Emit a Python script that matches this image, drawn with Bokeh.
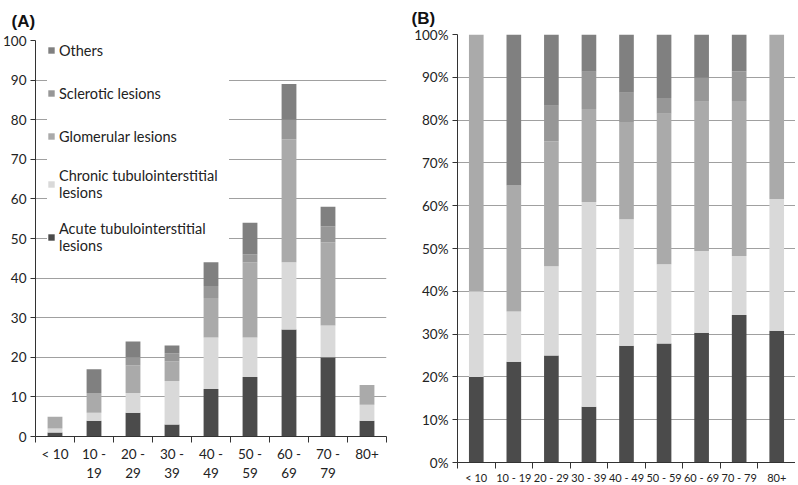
from bokeh.plotting import figure
from bokeh.layouts import row, column
from bokeh.models import (FixedTicker, Legend, LegendItem, NumeralTickFormatter,
                          ColumnDataSource, Range1d)
from bokeh.embed import file_html
from bokeh.resources import INLINE

# ---------------- data ----------------
age_groups = ["< 10", "10 - 19", "20 - 29", "30 - 39", "40 - 49",
              "50 - 59", "60 - 69", "70 - 79", "80+"]
age_labels_a = ["< 10", "10 -\n19", "20 -\n29", "30 -\n39", "40 -\n49",
                "50 -\n59", "60 -\n69", "70 -\n79", "80+"]
acute = [1, 4, 6, 3, 12, 15, 27, 20, 4]
chronic = [1, 2, 5, 11, 13, 10, 17, 8, 4]
glomerular = [3, 5, 7, 5, 10, 19, 31, 21, 5]
sclerotic = [0, 0, 2, 2, 3, 2, 5, 4, 0]
others = [0, 6, 4, 2, 6, 8, 9, 5, 0]

series_names = ["Acute tubulointerstitial\nlesions",
                "Chronic tubulointerstitial\nlesions",
                "Glomerular lesions", "Sclerotic lesions", "Others"]
series_keys = ["acute", "chronic", "glomerular", "sclerotic", "others"]
series_colors = ["#4b4b4b", "#d9d9d9", "#aaaaaa", "#979797", "#808080"]

y_ticks_a = [0, 10, 20, 30, 40, 50, 60, 70, 80, 90, 100]
y_ticks_b = [0, 0.1, 0.2, 0.3, 0.4, 0.5, 0.6, 0.7, 0.8, 0.9, 1.0]

FONT = "Lato"
TXT = "#222222"

xs = [i + 1 for i in range(len(age_groups))]
totals = [a + b + c + d + e for a, b, c, d, e in
          zip(acute, chronic, glomerular, sclerotic, others)]
values = dict(acute=acute, chronic=chronic, glomerular=glomerular,
              sclerotic=sclerotic, others=others)

src_a = ColumnDataSource(dict(x=xs, **values))
src_b = ColumnDataSource(dict(x=xs, **{k: [v / t for v, t in zip(values[k], totals)]
                                       for k in series_keys}))


def style(p, labels, y_ticks, xfs, lh, standoff):
    p.xgrid.visible = False
    p.ygrid.ticker = FixedTicker(ticks=y_ticks[1:])
    p.ygrid.grid_line_color = "#a0a0a0"
    p.ygrid.grid_line_width = 1
    p.outline_line_color = None

    xa = p.xaxis[0]
    xa.ticker = FixedTicker(ticks=xs, minor_ticks=[x - 0.5 for x in xs] + [xs[-1] + 0.5])
    xa.major_label_overrides = {x: lab for x, lab in zip(xs, labels)}
    xa.major_tick_line_color = None
    xa.major_tick_out = 0
    xa.major_tick_in = 0
    xa.minor_tick_in = 0
    xa.minor_tick_out = 6
    xa.minor_tick_line_color = "#333333"
    xa.axis_line_color = "#333333"
    xa.major_label_text_font = FONT
    xa.major_label_text_font_size = xfs
    xa.major_label_text_color = TXT
    xa.major_label_text_line_height = lh
    xa.major_label_standoff = standoff

    ya = p.yaxis[0]
    ya.ticker = FixedTicker(ticks=y_ticks)
    ya.minor_tick_line_color = None
    ya.major_tick_in = 0
    ya.major_tick_out = 5
    ya.major_tick_line_color = "#333333"
    ya.axis_line_color = "#333333"
    ya.major_label_text_font = FONT
    ya.major_label_text_font_size = "13.5px"
    ya.major_label_text_color = TXT
    ya.major_label_standoff = 4

    p.title.text_font = "Liberation Sans"
    p.title.text_font_style = "bold"
    p.title.text_font_size = "17px"
    p.title.text_color = "#111111"


# ---------------- panel A ----------------
pa = figure(frame_width=351, frame_height=396, output_backend="svg",
            toolbar_location=None, title="(A)",
            x_range=Range1d(0.5, len(xs) + 0.5), y_range=Range1d(0, 100),
            min_border_left=22, min_border_right=19, min_border_top=40,
            min_border_bottom=0)
style(pa, age_labels_a, y_ticks_a, "13.5px", 1.2, 3)
pa.title.offset = -24
pa.title.standoff = 19
rs = pa.vbar_stack(series_keys, x="x", width=0.38, color=series_colors,
                   line_color=None, source=src_a)
items = [LegendItem(label=n, renderers=[r]) for n, r in zip(series_names, rs)][::-1]
leg = Legend(items=items, location=(12, 182), margin=0, padding=6,
             spacing=19, label_height=24, glyph_height=8, glyph_width=8,
             label_standoff=4, label_text_font=FONT, label_text_font_size="14.5px",
             label_text_color=TXT, label_text_line_height=1.2,
             background_fill_color="white",
             background_fill_alpha=1.0, border_line_color=None, label_width=170)
pa.add_layout(leg)

# ---------------- panel B ----------------
pb = figure(frame_width=338, frame_height=428, output_backend="svg",
            toolbar_location=None, title="(B)",
            x_range=Range1d(0.5, len(xs) + 0.5), y_range=Range1d(0, 1),
            min_border_left=52, min_border_right=0, min_border_top=34,
            min_border_bottom=0)
style(pb, age_groups, y_ticks_b, "11px", 1.2, 2)
pb.title.offset = -46
pb.title.standoff = 13
pb.yaxis[0].formatter = NumeralTickFormatter(format="0%")
pb.vbar_stack(series_keys, x="x", width=0.39, color=series_colors,
              line_color=None, source=src_b)

layout = row(column(pa), column(pb))
open("out.html", "w").write(file_html(layout, INLINE))
